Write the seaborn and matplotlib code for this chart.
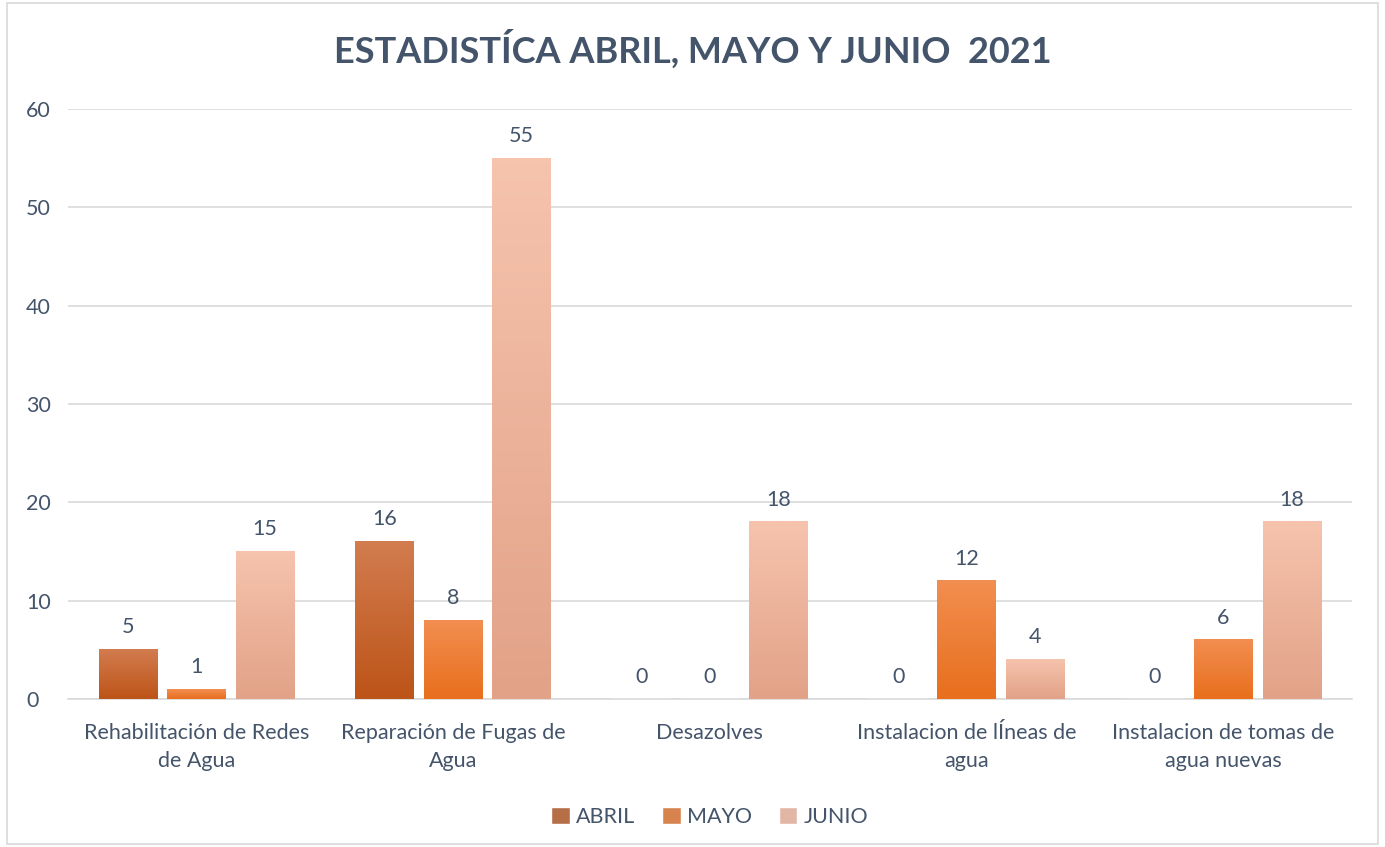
import numpy as np
import pandas as pd
import matplotlib.pyplot as plt
import matplotlib.colors as mcolors
from matplotlib.patches import Rectangle
import seaborn as sns

categorias = ["Rehabilitación de Redes\nde Agua", "Reparación de Fugas de\nAgua", "Desazolves",
              "Instalacion de lÍneas de\nagua", "Instalacion de tomas de\nagua nuevas"]
abril = [5, 16, 0, 0, 0]
mayo = [1, 8, 0, 12, 6]
junio = [15, 55, 18, 4, 18]
meses = ["ABRIL", "MAYO", "JUNIO"]

# top / bottom colours of each gradient
grad = {
    "ABRIL": ("#D27C4F", "#BD5418"),
    "MAYO": ("#F28E50", "#E86F1D"),
    "JUNIO": ("#F6C3AD", "#E2A288"),
}
mid = {k: mcolors.to_hex((np.array(mcolors.to_rgb(a)) + np.array(mcolors.to_rgb(b))) / 2) for k, (a, b) in grad.items()}

df = pd.DataFrame({
    "cat": categorias * 3,
    "mes": [m for m in meses for _ in categorias],
    "val": abril + mayo + junio,
})

sns.set_theme(style="white")
plt.rcParams["font.family"] = ["Lato", "DejaVu Sans"]
txt = "#44546A"

fig = plt.figure(figsize=(13.85, 8.47), dpi=100)
fig.patches.append(Rectangle((0.005, 0.004), 0.99, 0.992, transform=fig.transFigure,
                             fill=False, edgecolor="#D9D9D9", linewidth=1.2))
ax = fig.add_axes([0.049, 0.1747, 0.927, 0.6966])

sns.barplot(df, x="cat", y="val", hue="mes", palette=mid, width=0.8, gap=0.15,
            ax=ax, legend=True, zorder=3)

ax.set_ylim(0, 60)
ax.set_xlim(-0.5, 4.5)
ax.set_yticks(range(0, 61, 10))
ax.yaxis.grid(True, color="#D9D9D9", linewidth=1.2, zorder=0)
for s in ["top", "right", "left"]:
    ax.spines[s].set_visible(False)
ax.spines["bottom"].set_color("#D9D9D9")
ax.spines["bottom"].set_linewidth(1.2)
ax.set_xlabel("")
ax.set_ylabel("")
ax.tick_params(axis="both", length=0, labelsize=15.5, labelcolor=txt)
ax.tick_params(axis="x", pad=17)
ax.tick_params(axis="y", pad=30)
for t in ax.get_yticklabels():
    t.set_horizontalalignment("left")
for t in ax.get_xticklabels():
    t.set_linespacing(1.55)

# gradient fill on bars
for cont, m in zip(ax.containers, meses):
    cmap = mcolors.LinearSegmentedColormap.from_list(m, [grad[m][1], grad[m][0]])
    for p in cont.patches:
        h = p.get_height()
        if h <= 0:
            continue
        x0 = p.get_x()
        w = p.get_width()
        p.set_facecolor("none")
        p.set_edgecolor("none")
        g = np.linspace(0, 1, 100).reshape(-1, 1)
        ax.imshow(g, cmap=cmap, origin="lower", aspect="auto",
                  extent=[x0, x0 + w, 0, h], zorder=3)
    ax.bar_label(cont, fmt="%d", padding=9, fontsize=15.5, color=txt)

ax.set_xlim(-0.5, 4.5)
ax.set_ylim(0, 60)

leg = ax.legend(loc="upper center", bbox_to_anchor=(0.5, -0.15), ncol=3, frameon=False,
                fontsize=15.5, handlelength=0.85, handleheight=0.85, handletextpad=0.3,
                columnspacing=1.25)
for t in leg.get_texts():
    t.set_color(txt)

fig.suptitle("ESTADISTÍCA ABRIL, MAYO Y JUNIO  2021", x=0.5, y=0.965,
             fontsize=26, fontweight="bold", color=txt)

fig.savefig("out.png", dpi=100)
